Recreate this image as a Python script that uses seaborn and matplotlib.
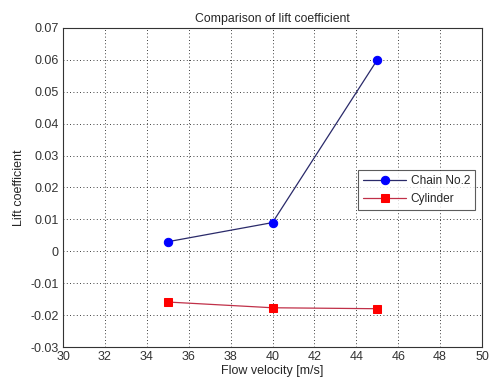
import matplotlib
matplotlib.use("Agg")
import matplotlib.pyplot as plt
import seaborn as sns
import pandas as pd

velocity = [35, 40, 45]
chain_no2 = [0.003, 0.009, 0.060]
cylinder = [-0.0159, -0.0177, -0.0180]
xticks = [30, 32, 34, 36, 38, 40, 42, 44, 46, 48, 50]
yticks = [-0.03, -0.02, -0.01, 0, 0.01, 0.02, 0.03, 0.04, 0.05, 0.06, 0.07]
ytick_labels = ["-0.03", "-0.02", "-0.01", "0", "0.01", "0.02", "0.03", "0.04", "0.05", "0.06", "0.07"]

sns.set_style("white")
plt.rcParams['font.family'] = ['Liberation Sans', 'DejaVu Sans']

fig = plt.figure(figsize=(4.91, 3.83), dpi=100)
ax = fig.add_axes([63/491, 36/383, 419/491, 319/383])

df_chain = pd.DataFrame({"v": velocity, "cl": chain_no2})
df_cyl = pd.DataFrame({"v": velocity, "cl": cylinder})

sns.lineplot(data=df_chain, x="v", y="cl", ax=ax, color="#2a2a6a", linewidth=0.9,
             marker="o", markersize=6, markerfacecolor="#0000ff", markeredgecolor="#0000ff",
             label="Chain No.2")
sns.lineplot(data=df_cyl, x="v", y="cl", ax=ax, color="#c03048", linewidth=0.9,
             marker="s", markersize=6, markerfacecolor="#ff0000", markeredgecolor="#ff0000",
             label="Cylinder")

ax.set_xlim(30, 50)
ax.set_ylim(-0.03, 0.07)
ax.set_xticks(xticks)
ax.set_yticks(yticks)
ax.set_yticklabels(ytick_labels)
ax.tick_params(direction="in", length=3, labelsize=9, colors="black", width=0.6, pad=3)
for lab in ax.get_xticklabels() + ax.get_yticklabels():
    lab.set_color("#333333")
ax.grid(True, linestyle=(0, (1, 3)), color="black", linewidth=0.6)
for s in ax.spines.values():
    s.set_color("#333333")
    s.set_linewidth(0.8)

ax.set_title("Comparison of lift coefficient", fontsize=8.8, pad=4)
ax.set_xlabel("Flow velocity [m/s]", fontsize=9, labelpad=1)
ax.set_ylabel("Lift coefficient", fontsize=9, labelpad=4)

leg = ax.legend(loc="upper left", bbox_to_anchor=((358-63)/419, (383-170-36)/319),
                fontsize=8.6, frameon=True, fancybox=False, borderpad=0.45,
                handlelength=3.6, handletextpad=0.35, labelspacing=0.45, borderaxespad=0)
leg.get_frame().set_edgecolor("#333333")
leg.get_frame().set_linewidth(0.8)

fig.savefig("out.png", dpi=100, facecolor="white")
